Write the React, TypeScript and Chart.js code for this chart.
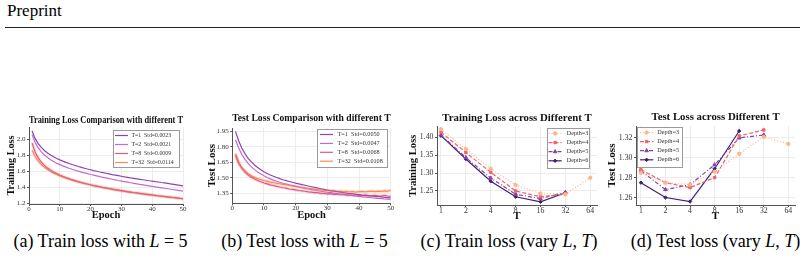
import React, { useEffect, useRef } from 'react';
import { Chart, registerables } from 'chart.js';
import { drawPoint } from 'chart.js/helpers';

Chart.register(...registerables);

const SERIF = '"Liberation Serif", "Times New Roman", Times, serif';

// ---------- data ----------
const EPOCHS = [1,2,3,4,5,6,7,8,9,10,11,12,13,14,15,16,17,18,19,20,21,22,23,24,25,26,27,28,29,30,31,32,33,34,35,36,37,38,39,40,41,42,43,44,45,46,47,48,49,50];

const TRAIN_T1 = [2.100,2.005,1.943,1.895,1.857,1.826,1.800,1.778,1.758,1.740,1.724,1.709,1.695,1.682,1.670,1.658,1.647,1.636,1.626,1.617,1.607,1.598,1.589,1.581,1.573,1.565,1.557,1.550,1.543,1.536,1.529,1.523,1.516,1.510,1.504,1.498,1.492,1.486,1.480,1.475,1.469,1.464,1.458,1.453,1.448,1.440,1.434,1.428,1.422,1.416];
const TRAIN_T2 = [2.055,1.955,1.890,1.840,1.801,1.769,1.742,1.719,1.699,1.681,1.665,1.650,1.636,1.623,1.611,1.599,1.588,1.578,1.568,1.558,1.549,1.540,1.531,1.523,1.515,1.507,1.499,1.491,1.483,1.476,1.469,1.462,1.455,1.448,1.441,1.434,1.428,1.422,1.416,1.410,1.404,1.398,1.392,1.386,1.380,1.374,1.368,1.362,1.356,1.350];
const TRAIN_T8 = [1.950,1.835,1.765,1.712,1.672,1.640,1.613,1.590,1.569,1.551,1.535,1.520,1.506,1.493,1.481,1.470,1.459,1.449,1.439,1.430,1.421,1.413,1.405,1.397,1.390,1.383,1.376,1.369,1.363,1.357,1.351,1.345,1.339,1.333,1.328,1.323,1.318,1.313,1.308,1.303,1.298,1.293,1.289,1.284,1.280,1.275,1.271,1.267,1.262,1.258];
const TRAIN_T32 = [1.860,1.780,1.724,1.682,1.648,1.620,1.596,1.575,1.557,1.541,1.526,1.512,1.499,1.487,1.476,1.465,1.455,1.445,1.436,1.427,1.418,1.410,1.402,1.394,1.387,1.380,1.373,1.366,1.360,1.354,1.348,1.342,1.336,1.330,1.325,1.320,1.314,1.309,1.304,1.299,1.295,1.290,1.285,1.281,1.276,1.272,1.268,1.263,1.259,1.255];
const TRAIN_LABELS = ['T=1  Std=0.0023', 'T=2  Std=0.0021', 'T=8  Std=0.0009', 'T=32  Std=0.0114'];

const TEST_T1 = [1.950,1.860,1.790,1.735,1.690,1.655,1.625,1.600,1.578,1.560,1.543,1.528,1.515,1.503,1.492,1.482,1.473,1.465,1.457,1.449,1.442,1.435,1.428,1.421,1.414,1.407,1.400,1.394,1.388,1.382,1.376,1.371,1.366,1.361,1.356,1.352,1.348,1.344,1.340,1.337,1.333,1.330,1.327,1.324,1.321,1.318,1.315,1.312,1.309,1.306];
const TEST_T2 = [1.870,1.790,1.728,1.680,1.640,1.607,1.580,1.557,1.537,1.520,1.504,1.490,1.478,1.467,1.457,1.448,1.440,1.432,1.425,1.418,1.411,1.404,1.398,1.392,1.386,1.380,1.375,1.370,1.365,1.360,1.356,1.351,1.347,1.343,1.339,1.335,1.331,1.327,1.323,1.320,1.316,1.313,1.310,1.307,1.304,1.301,1.299,1.296,1.294,1.292];
const TEST_T8 = [1.720,1.642,1.592,1.556,1.528,1.507,1.489,1.474,1.462,1.450,1.441,1.432,1.426,1.417,1.411,1.404,1.400,1.392,1.388,1.383,1.377,1.374,1.370,1.364,1.362,1.357,1.356,1.350,1.349,1.345,1.347,1.339,1.341,1.336,1.339,1.333,1.335,1.331,1.336,1.330,1.327,1.333,1.328,1.325,1.331,1.326,1.323,1.329,1.324,1.321];
const TEST_T32 = [1.735,1.652,1.601,1.566,1.540,1.521,1.505,1.492,1.484,1.474,1.468,1.459,1.455,1.447,1.443,1.437,1.433,1.426,1.423,1.418,1.412,1.408,1.402,1.399,1.395,1.391,1.386,1.384,1.379,1.377,1.373,1.375,1.369,1.371,1.366,1.368,1.363,1.367,1.362,1.366,1.369,1.364,1.368,1.372,1.367,1.371,1.368,1.374,1.371,1.378];
const TEST_LABELS = ['T=1  Std=0.0050', 'T=2  Std=0.0047', 'T=8  Std=0.0068', 'T=32  Std=0.0108'];

const T_VALUES = [1, 2, 4, 8, 16, 32, 64];
const TRAIN_D3 = [1.422,1.367,1.312,1.267,1.243,1.241,1.287];
const TRAIN_D4 = [1.414,1.357,1.302,1.250,1.234,1.241,null];
const TRAIN_D5 = [1.406,1.343,1.286,1.241,1.229,1.246,null];
const TRAIN_D6 = [1.404,1.339,1.277,1.234,1.220,1.245,null];

const TEST_D3 = [1.285,1.275,1.273,1.286,1.304,1.321,1.314];
const TEST_D4 = [1.288,1.275,1.270,1.280,1.322,1.328,null];
const TEST_D5 = [1.287,1.268,1.273,1.293,1.320,1.323,null];
const TEST_D6 = [1.275,1.260,1.256,1.289,1.327,null,null];
const DEPTH_LABELS = ['Depth=3', 'Depth=4', 'Depth=5', 'Depth=6'];

const X_TICKS_EPOCH = [0, 10, 20, 30, 40, 50];
const Y_TICKS_A = [1.2, 1.4, 1.6, 1.8, 2.0];
const Y_TICKS_B = [1.35, 1.50, 1.65, 1.80, 1.95];
const Y_TICKS_C = [1.25, 1.30, 1.35, 1.40];
const Y_TICKS_D = [1.26, 1.28, 1.30, 1.32];

// ---------- styles ----------
const T_COLORS = ['#8e44ad', '#c46bd2', '#e05a7d', '#fb8b5b'];
const D_COLORS = ['#fdb68a', '#f0626e', '#8e3fa0', '#3d1f73'];
const D_DASH = [[1, 2], [4, 2], [4, 2, 1, 2], []];
const D_POINT = ['circle', 'rect', 'triangle', 'rectRot'];
const GRID = '#ececec';
const AXIS = '#555555';

const boxLegend = {
  id: 'boxLegend',
  afterDatasetsDraw(chart: any, _args: any, opts: any) {
    if (!opts || !opts.display) return;
    const { ctx } = chart;
    const { x, y, w, h, first, step, lineX0, lineX1, textX, fontSize } = opts;
    ctx.save();
    ctx.fillStyle = 'rgba(255,255,255,0.92)';
    ctx.fillRect(x, y, w, h);
    ctx.strokeStyle = '#9a9a9a';
    ctx.lineWidth = 1;
    ctx.setLineDash([]);
    ctx.strokeRect(Math.round(x) + 0.5, Math.round(y) + 0.5, Math.round(w) - 1, Math.round(h) - 1);
    const items = chart.data.datasets.filter((d: any) => d.label);
    items.forEach((ds: any, i: number) => {
      const ry = y + first + i * step;
      ctx.strokeStyle = ds.borderColor;
      ctx.lineWidth = ds.borderWidth;
      ctx.setLineDash(ds.borderDash || []);
      ctx.beginPath();
      ctx.moveTo(lineX0, ry);
      ctx.lineTo(lineX1, ry);
      ctx.stroke();
      ctx.setLineDash([]);
      if (ds.pointRadius > 0) {
        ctx.fillStyle = ds.borderColor;
        ctx.strokeStyle = ds.borderColor;
        ctx.lineWidth = 1;
        drawPoint(ctx, { pointStyle: ds.pointStyle, radius: ds.pointRadius, rotation: 0, borderWidth: 1 } as any, (lineX0 + lineX1) / 2, ry);
      }
      ctx.fillStyle = '#333333';
      ctx.font = `${fontSize}px ${SERIF}`;
      ctx.textBaseline = 'middle';
      ctx.textAlign = 'left';
      ctx.fillText(ds.label, textX, ry);
    });
    ctx.restore();
  },
};

type Box = { left: number; top: number; width: number; height: number };

function buildOptions(p: any) {
  const { box, area, title, titleSize, titleCY, xTitle, xTitleSize, xTitleCY, yTitle, yTitleSize, yTitleCX, xScale, yScale, legend, tickSize } = p;
  const tl = titleSize * 1.2;
  const tPadTop = titleCY - box.top - tl / 2;
  const tPadBottom = area.t - box.top - tl - tPadTop;
  const xl = xTitleSize * 1.2;
  const xPadBottom = box.top + box.height - xTitleCY - xl / 2;
  const yl = yTitleSize * 1.2;
  const yPadTop = yTitleCX - box.left - yl / 2;
  const xH = box.top + box.height - area.b;
  const yW = area.l - box.left;
  const tickFont = { family: SERIF, size: tickSize };
  return {
    responsive: false,
    animation: false,
    events: [],
    layout: { padding: { left: 0, top: 0, bottom: 0, right: box.left + box.width - area.r } },
    plugins: {
      legend: { display: false },
      tooltip: { enabled: false },
      title: {
        display: true,
        text: title,
        fullSize: false,
        color: '#111111',
        font: { family: SERIF, size: titleSize, weight: 'bold', lineHeight: 1.2 },
        padding: { top: tPadTop, bottom: tPadBottom },
      },
      boxLegend: { display: true, ...legend },
    },
    scales: {
      x: {
        ...xScale,
        afterFit: (s: any) => { s.height = xH; },
        grid: { color: GRID, lineWidth: 1, drawTicks: true, tickLength: 2, tickColor: AXIS },
        border: { display: true, color: AXIS, width: 1 },
        ticks: { ...(xScale.ticks || {}), font: tickFont, color: '#333333', padding: -1, maxRotation: 0, autoSkip: false },
        title: { display: true, text: xTitle, color: '#111111', font: { family: SERIF, size: xTitleSize, weight: 'bold', lineHeight: 1.2 }, padding: { top: 0, bottom: xPadBottom } },
      },
      y: {
        ...yScale,
        afterFit: (s: any) => { s.width = yW; },
        grid: { color: GRID, lineWidth: 1, drawTicks: true, tickLength: 2, tickColor: AXIS },
        border: { display: true, color: AXIS, width: 1 },
        ticks: { ...(yScale.ticks || {}), font: tickFont, color: '#333333', padding: 1.5 },
        title: { display: true, text: yTitle, color: '#111111', font: { family: SERIF, size: yTitleSize, weight: 'bold', lineHeight: 1.2 }, padding: { top: yPadTop, bottom: 0 } },
      },
    },
  };
}

function ChartCanvas({ box, config }: { box: Box; config: () => any }) {
  const ref = useRef<HTMLCanvasElement>(null);
  useEffect(() => {
    const chart = new Chart(ref.current as HTMLCanvasElement, { ...config(), plugins: [boxLegend] });
    return () => chart.destroy();
  }, []);
  return (
    <div style={{ position: 'absolute', left: box.left, top: box.top, width: box.width, height: box.height }}>
      <canvas ref={ref} width={box.width} height={box.height} style={{ width: box.width, height: box.height, display: 'block' }} />
    </div>
  );
}

const fixedTicks = (vals: number[]) => (s: any) => { s.ticks = vals.map((v) => ({ value: v })); };

function epochLines(series: number[][], labels: string[], halo: string[]) {
  const ds: any[] = [];
  series.forEach((data, i) => {
    if (halo[i]) {
      ds.push({ label: '', data, borderColor: T_COLORS[i] + halo[i], borderWidth: 3.2, pointRadius: 0, fill: false, tension: 0 });
    }
  });
  series.forEach((data, i) => {
    ds.push({ label: labels[i], data, borderColor: T_COLORS[i], borderWidth: 1.2, pointRadius: 0, fill: false, tension: 0 });
  });
  return ds;
}

function depthLines(series: (number | null)[][]) {
  return series.map((data, i) => ({
    label: DEPTH_LABELS[i],
    data,
    borderColor: D_COLORS[i],
    backgroundColor: D_COLORS[i],
    borderWidth: 1.2,
    borderDash: D_DASH[i],
    pointStyle: D_POINT[i],
    pointRadius: i === 2 ? 2.1 : 1.7,
    pointBorderWidth: 1,
    fill: false,
    tension: 0,
    spanGaps: false,
  }));
}

const BOX_A: Box = { left: 0, top: 105, width: 200, height: 120 };
const BOX_B: Box = { left: 200, top: 105, width: 200, height: 120 };
const BOX_C: Box = { left: 400, top: 105, width: 204, height: 120 };
const BOX_D: Box = { left: 604, top: 105, width: 200, height: 120 };

const configA = () => ({
  type: 'line',
  data: { labels: EPOCHS, datasets: epochLines([TRAIN_T1, TRAIN_T2, TRAIN_T8, TRAIN_T32], TRAIN_LABELS, ['', '', '30', '30']) },
  options: buildOptions({
    box: BOX_A, area: { l: 29, t: 127, r: 183, b: 204 },
    title: 'Training Loss Comparison with different T', titleSize: 10.5, titleCY: 120.5,
    xTitle: 'Epoch', xTitleSize: 10.5, xTitleCY: 215,
    yTitle: 'Training Loss', yTitleSize: 10.2, yTitleCX: 11.7,
    tickSize: 7,
    xScale: { type: 'linear', min: 0, max: 50, afterBuildTicks: fixedTicks(X_TICKS_EPOCH) },
    yScale: { type: 'linear', min: 1.19, max: 2.15, afterBuildTicks: fixedTicks(Y_TICKS_A), ticks: { callback: (v: number) => v.toFixed(1) } },
    legend: { x: 113, y: 25, w: 67, h: 38, first: 5.5, step: 9, lineX0: 115, lineX1: 128, textX: 131.5, fontSize: 5.8 },
  }),
});

const configB = () => ({
  type: 'line',
  data: { labels: EPOCHS, datasets: epochLines([TEST_T1, TEST_T2, TEST_T8, TEST_T32], TEST_LABELS, ['', '', '38', '48']) },
  options: buildOptions({
    box: BOX_B, area: { l: 232.3, t: 128, r: 390.7, b: 203.3 },
    title: 'Test Loss Comparison with different T', titleSize: 10.5, titleCY: 118.5,
    xTitle: 'Epoch', xTitleSize: 10.5, xTitleCY: 215,
    yTitle: 'Test Loss', yTitleSize: 11, yTitleCX: 211.7,
    tickSize: 7,
    xScale: { type: 'linear', min: 0, max: 50, afterBuildTicks: fixedTicks(X_TICKS_EPOCH) },
    yScale: { type: 'linear', min: 1.253, max: 1.984, afterBuildTicks: fixedTicks(Y_TICKS_B), ticks: { callback: (v: number) => v.toFixed(2) } },
    legend: { x: 117, y: 24, w: 71, h: 39, first: 5.5, step: 8.9, lineX0: 120, lineX1: 133, textX: 137.5, fontSize: 6.2 },
  }),
});

const configC = () => ({
  type: 'line',
  data: { labels: T_VALUES, datasets: depthLines([TRAIN_D3, TRAIN_D4, TRAIN_D5, TRAIN_D6]) },
  options: buildOptions({
    box: BOX_C, area: { l: 437, t: 126.7, r: 597, b: 205 },
    title: 'Training Loss across Different T', titleSize: 10.8, titleCY: 118,
    xTitle: 'T', xTitleSize: 11, xTitleCY: 216,
    yTitle: 'Training Loss', yTitleSize: 10.6, yTitleCX: 413.3,
    tickSize: 7.8,
    xScale: { type: 'logarithmic', min: 0.895, max: 77.2, afterBuildTicks: fixedTicks(T_VALUES), ticks: { callback: (v: number) => String(v) } },
    yScale: { type: 'linear', min: 1.211, max: 1.429, afterBuildTicks: fixedTicks(Y_TICKS_C), ticks: { callback: (v: number) => v.toFixed(2) } },
    legend: { x: 147, y: 23, w: 43, h: 41, first: 5.5, step: 9.1, lineX0: 148.5, lineX1: 161.7, textX: 166.7, fontSize: 6.2 },
  }),
});

const configD = () => ({
  type: 'line',
  data: { labels: T_VALUES, datasets: depthLines([TEST_D3, TEST_D4, TEST_D5, TEST_D6]) },
  options: buildOptions({
    box: BOX_D, area: { l: 636, t: 126, r: 795, b: 205 },
    title: 'Test Loss across Different T', titleSize: 10.8, titleCY: 117.3,
    xTitle: 'T', xTitleSize: 11, xTitleCY: 216,
    yTitle: 'Test Loss', yTitleSize: 11.2, yTitleCX: 611.7,
    tickSize: 7.8,
    xScale: { type: 'logarithmic', min: 0.871, max: 77.2, afterBuildTicks: fixedTicks(T_VALUES), ticks: { callback: (v: number) => String(v) } },
    yScale: { type: 'linear', min: 1.2525, max: 1.332, afterBuildTicks: fixedTicks(Y_TICKS_D), ticks: { callback: (v: number) => v.toFixed(2) } },
    legend: { x: 33, y: 22, w: 46, h: 41, first: 5.5, step: 9.1, lineX0: 36, lineX1: 49.3, textX: 53.3, fontSize: 6.2 },
  }),
});

const captionStyle = (cx: number): React.CSSProperties => ({
  position: 'absolute', left: cx - 150, width: 300, top: 232, textAlign: 'center',
  fontFamily: SERIF, fontSize: 18, lineHeight: '18px', color: '#000', whiteSpace: 'nowrap',
});

export default function App() {
  return (
    <div style={{ position: 'absolute', left: 0, top: 0, width: 804, height: 261, background: '#fff', overflow: 'hidden' }}>
      <div style={{ position: 'absolute', left: 7, top: 2, fontFamily: SERIF, fontSize: 17, lineHeight: '17px', color: '#000' }}>Preprint</div>
      <div style={{ position: 'absolute', left: 5, top: 27, width: 795, height: 1, background: '#222' }} />
      <ChartCanvas box={BOX_A} config={configA} />
      <ChartCanvas box={BOX_B} config={configB} />
      <ChartCanvas box={BOX_C} config={configC} />
      <ChartCanvas box={BOX_D} config={configD} />
      <div style={captionStyle(100.5)}>(a) Train loss with <i>L</i>&nbsp;=&nbsp;5</div>
      <div style={captionStyle(304.5)}>(b) Test loss with <i>L</i>&nbsp;=&nbsp;5</div>
      <div style={captionStyle(509)}>(c) Train loss (vary <i>L</i>, <i>T</i>)</div>
      <div style={captionStyle(715.5)}>(d) Test loss (vary <i>L</i>, <i>T</i>)</div>
    </div>
  );
}
